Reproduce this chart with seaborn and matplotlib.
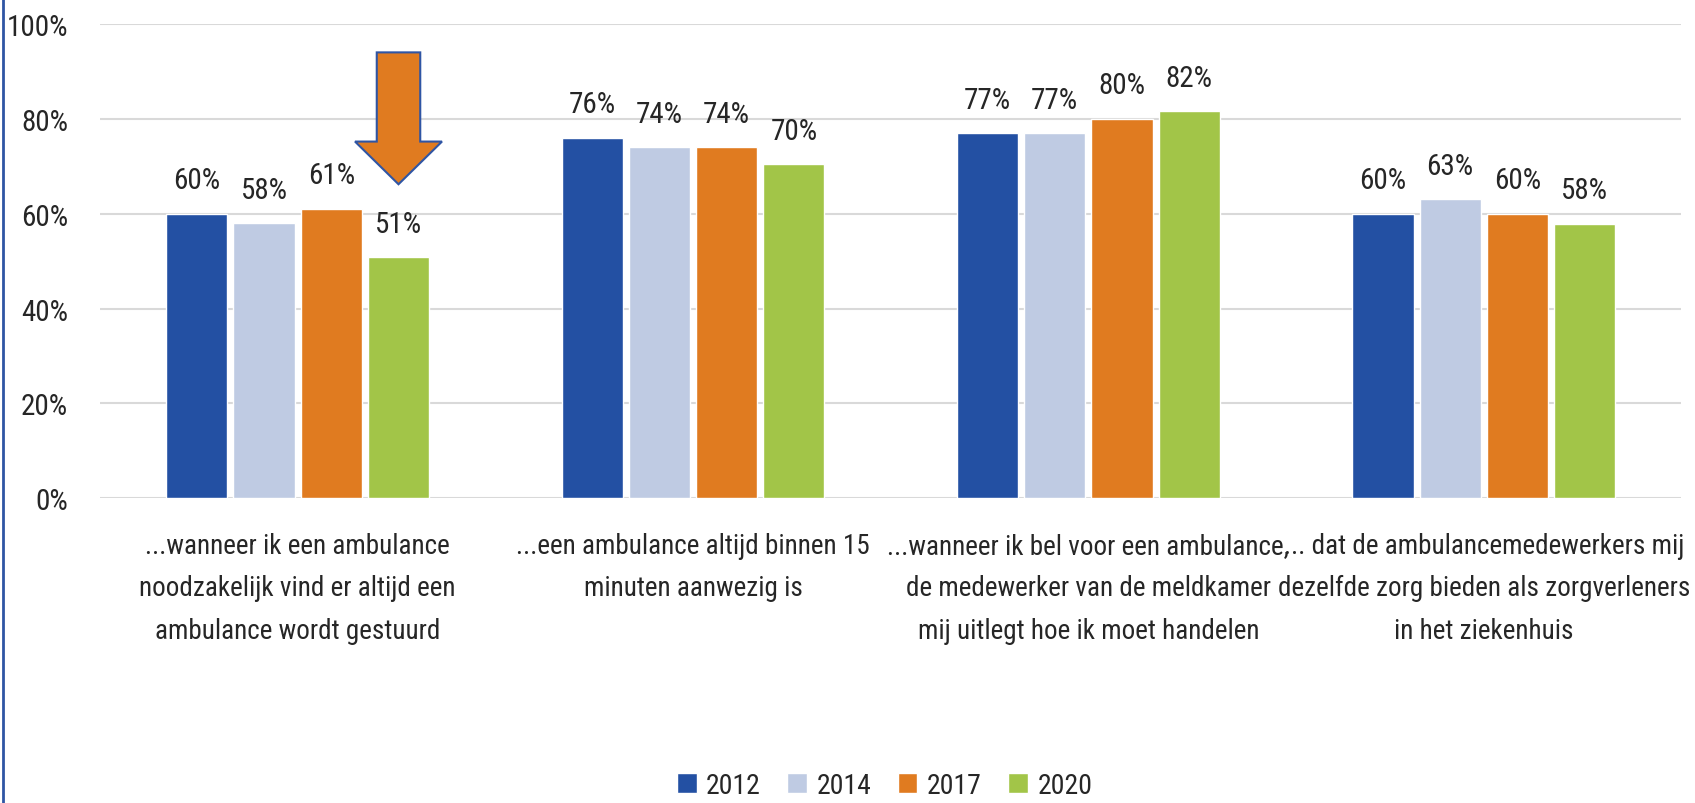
import matplotlib
matplotlib.use("Agg")
import matplotlib.pyplot as plt
from matplotlib.patches import FancyArrow
import seaborn as sns
import pandas as pd

# categories (x axis) and the four survey years
categories = [
    "...wanneer ik een ambulance\nnoodzakelijk vind er altijd een\nambulance wordt gestuurd",
    "...een ambulance altijd binnen 15\nminuten aanwezig is",
    "...wanneer ik bel voor een ambulance,\nde medewerker van de meldkamer\nmij uitlegt hoe ik moet handelen",
    "... dat de ambulancemedewerkers mij\ndezelfde zorg bieden als zorgverleners\nin het ziekenhuis",
]
years = ["2012", "2014", "2017", "2020"]
values_2012 = [60, 76, 77, 60]
values_2014 = [58, 74, 77, 63]
values_2017 = [61, 74, 80, 60]
values_2020 = [50.8, 70.4, 81.6, 57.9]

colors = ["#2350A3", "#BFCBE3", "#E07B20", "#A2C548"]

rows = []
for year, vals in zip(years, [values_2012, values_2014, values_2017, values_2020]):
    for cat, v in zip(categories, vals):
        rows.append({"categorie": cat, "jaar": year, "waarde": v})
df = pd.DataFrame(rows)

sns.set_style("white")
plt.rcParams["font.family"] = ["Roboto Condensed", "DejaVu Sans"]
text_color = "#262626"

fig = plt.figure(figsize=(16.95, 8.04), dpi=100)
ax = fig.add_axes([0.059, 0.379, 0.933, 0.590])

sns.barplot(data=df, x="categorie", y="waarde", hue="jaar", order=categories,
            hue_order=years, palette=colors, width=0.68, gap=0.09,
            saturation=1, ax=ax, legend=True)

ax.set_ylim(0, 100)
ax.set_xlim(-0.5, len(categories) - 0.5)
ax.set_yticks(range(0, 101, 20))
ax.set_yticklabels([f"{t}%" for t in range(0, 101, 20)])
ax.yaxis.grid(True, color="#D9D9D9", linewidth=1.5)
ax.set_axisbelow(True)
for side in ["top", "right", "left", "bottom"]:
    ax.spines[side].set_visible(False)
ax.set_xlabel("")
ax.set_ylabel("")
ax.tick_params(axis="y", length=0, pad=23, labelsize=21, labelcolor=text_color)
ax.tick_params(axis="x", length=0, pad=24, labelsize=19.5, labelcolor=text_color)
for lbl in ax.get_xticklabels():
    lbl.set_linespacing(1.75)

# value labels above the bars
for container in ax.containers:
    ax.bar_label(container, labels=[f"{b.get_height():.0f}%" for b in container],
                 padding=14, fontsize=21, color=text_color)

# orange arrow pointing at the 2020 bar of the first group
green_bar = ax.containers[3][0]
arrow_x = green_bar.get_x() + green_bar.get_width() / 2
ax.add_patch(FancyArrow(arrow_x, 94, 0, -27.8, width=0.11, head_width=0.22,
                        head_length=9, length_includes_head=True,
                        facecolor="#E07B20", edgecolor="#2F55A4", linewidth=1.5,
                        zorder=5, clip_on=False))

# legend at the bottom
handles, labels = ax.get_legend_handles_labels()
ax.get_legend().remove()
fig.legend(handles, labels, loc="lower center", ncol=4, frameon=False,
           fontsize=20, handlelength=0.7, handleheight=0.7, columnspacing=0.95,
           handletextpad=0.35, bbox_to_anchor=(0.522, -0.026), labelcolor=text_color)

# blue border line on the left edge
fig.add_artist(plt.Line2D([0.002, 0.002], [0, 1], color="#2F55A4", linewidth=2))

fig.savefig("out.png", dpi=100)
